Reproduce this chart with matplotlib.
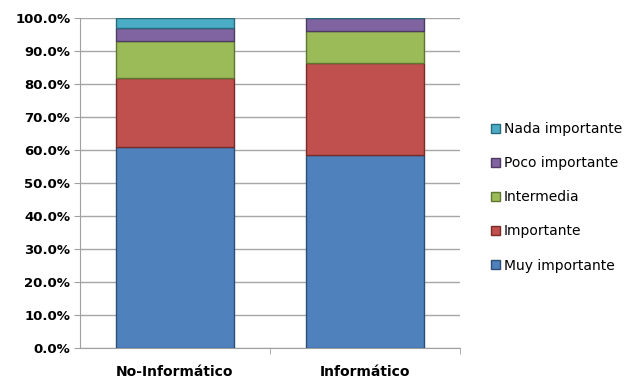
import matplotlib.pyplot as plt
import numpy as np

# porcentaje de respuestas por grupo
grupos = ["No-Informático", "Informático"]
niveles = ["Muy importante", "Importante", "Intermedia", "Poco importante", "Nada importante"]
muy_importante = [61.0, 58.5]
importante = [21.0, 28.0]
intermedia = [11.0, 9.5]
poco_importante = [4.0, 4.0]
nada_importante = [3.0, 0.0]
colores = ["#4F81BD", "#C0504D", "#9BBB59", "#8064A2", "#4BACC6"]
bordes = ["#2C4D75", "#772C2A", "#5F7530", "#4D3B62", "#276A7C"]

series = [muy_importante, importante, intermedia, poco_importante, nada_importante]

fig = plt.figure(figsize=(6.3, 3.78), dpi=100)
ax = fig.add_axes([0.127, 0.079, 0.603, 0.873])

x = np.arange(len(grupos))
base = np.zeros(len(grupos))
handles = []
for nombre, valores, color, borde in zip(niveles, series, colores, bordes):
    valores = np.array(valores)
    h = ax.bar(x, valores, width=0.62, bottom=base, color=color,
               edgecolor=borde, linewidth=1.0, label=nombre, zorder=3)
    handles.append(h)
    base += valores

ax.set_xlim(-0.5, 1.5)
ax.set_ylim(0, 100)
ax.set_yticks(np.arange(0, 101, 10))
ax.set_yticklabels([f"{v:.1f}%" for v in range(0, 101, 10)],
                   fontsize=9.5, fontweight="bold", family="DejaVu Sans")
ax.set_xticks(x)
ax.set_xticklabels(grupos, fontsize=10, fontweight="bold", family="DejaVu Sans")
ax.set_xticks([0.5, 1.5], minor=True)
ax.tick_params(axis="x", which="major", length=0, pad=12)
ax.tick_params(axis="x", which="minor", length=4, color="#A0A0A0")
ax.tick_params(axis="y", length=4, color="#A0A0A0", pad=3)

ax.yaxis.grid(True, color="#A6A6A6", linewidth=1.0, zorder=0)
ax.set_axisbelow(True)
for lado in ["top", "right"]:
    ax.spines[lado].set_visible(False)
for lado in ["left", "bottom"]:
    ax.spines[lado].set_color("#A0A0A0")

leg = fig.legend(handles[::-1], niveles[::-1], loc="center left",
                 bbox_to_anchor=(0.76, 0.478), frameon=False, fontsize=10,
                 handlelength=0.6, handleheight=0.6, handletextpad=0.3,
                 labelspacing=1.45)

fig.savefig("out.png", dpi=100)
